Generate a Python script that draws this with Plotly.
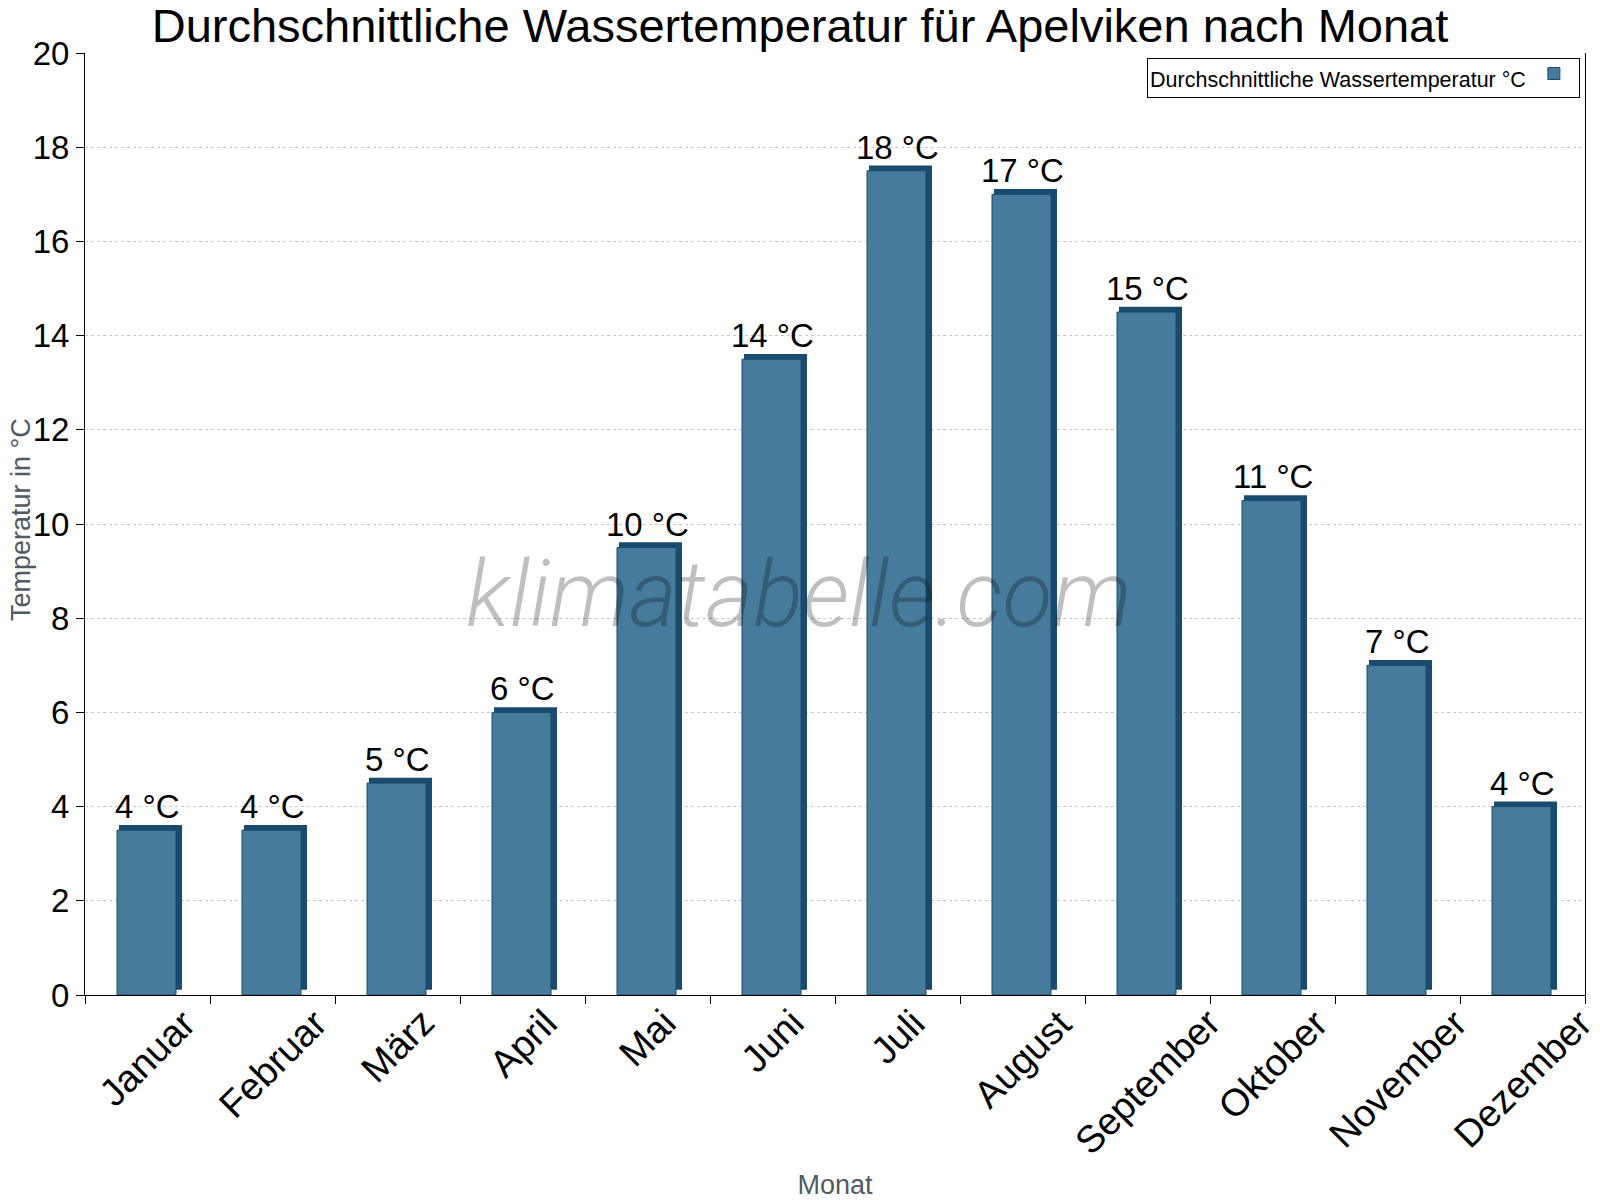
import plotly.graph_objects as go

months = ["Januar", "Februar", "März", "April", "Mai", "Juni", "Juli",
          "August", "September", "Oktober", "November", "Dezember"]
water_temp = [3.5, 3.5, 4.5, 6, 9.5, 13.5, 17.5, 17, 14.5, 10.5, 7, 4]
value_labels = ["4 °C", "4 °C", "5 °C", "6 °C", "10 °C", "14 °C", "18 °C",
                "17 °C", "15 °C", "11 °C", "7 °C", "4 °C"]
y_ticks = [0, 2, 4, 6, 8, 10, 12, 14, 16, 18, 20]
series_name = "Durchschnittliche Wassertemperatur °C"

FRONT = "rgb(70,123,156)"
DARK = "rgb(24,75,110)"
FONT = "Liberation Sans, Arial, sans-serif"
AXIS_TITLE = "#505a64"
CAP = 0.11  # depth of the pseudo-3D cap in data units

fig = go.Figure()

# shadow/depth part of the pseudo-3D bar
fig.add_trace(go.Bar(
    x=months, y=water_temp, base=[CAP] * len(months),
    offset=-0.228, width=0.504,
    marker=dict(color=DARK, line=dict(width=0)),
    showlegend=False, hoverinfo="skip",
))
# front face
fig.add_trace(go.Bar(
    x=months, y=water_temp,
    offset=-0.244, width=0.472,
    marker=dict(color=FRONT, line=dict(width=1, color=DARK)),
    name="", hovertemplate="%{x}: %{y} °C<extra>" + series_name + "</extra>",
))

# value labels above the bars
for m, v, t in zip(months, water_temp, value_labels):
    fig.add_annotation(x=m, y=v, text=t, showarrow=False, yanchor="bottom",
                       yshift=3, font=dict(size=33, color="black", family=FONT))

# month labels, rotated and centred under each category
for m in months:
    fig.add_annotation(x=m, y=0, xref="x", yref="paper", text=m,
                       showarrow=False, textangle=-45,
                       xanchor="center", yanchor="top", yshift=-4,
                       font=dict(size=38, color="black", family=FONT))

# y axis title
fig.add_annotation(x=0, y=0.5, xref="paper", yref="paper",
                   text="Temperatur in °C", showarrow=False, textangle=-90,
                   xanchor="center", yanchor="middle", xshift=-64, yshift=4,
                   font=dict(size=27, color=AXIS_TITLE, family=FONT))

fig.add_annotation(x=0.476, y=0.425, xref="paper", yref="paper",
                   text="<i>klimatabelle.com</i>", showarrow=False,
                   font=dict(size=92, color="rgba(0,0,0,0.25)",
                             family="Roboto, sans-serif", weight=300))

fig.update_layout(
    width=1600, height=1200,
    barmode="overlay",
    paper_bgcolor="white", plot_bgcolor="white",
    margin=dict(l=85, r=15, t=53, b=205, autoexpand=False),
    font=dict(family=FONT, color="black"),
    title=dict(text="Durchschnittliche Wassertemperatur für Apelviken nach Monat",
               x=0.5, xanchor="center", y=0.979, yanchor="middle",
               font=dict(size=47, color="black", family=FONT)),
    showlegend=True,
    legend=dict(x=0.9967, y=0.9947, xanchor="right", yanchor="top",
                bgcolor="white", bordercolor="black", borderwidth=1,
                title=dict(text=series_name, side="left",
                           font=dict(size=21.5, color="black", family=FONT)),
                font=dict(size=12, color="black", family=FONT),
                itemwidth=30),
    xaxis=dict(
        type="category", range=[-0.5, len(months) - 0.5], autorange=False,
        tickson="boundaries",
        ticks="outside", ticklen=8, tickcolor="black", tickwidth=1,
        showline=True, linecolor="black", linewidth=1,
        showgrid=False, showticklabels=False,
        title=dict(text="Monat", standoff=180,
                   font=dict(size=27, color=AXIS_TITLE, family=FONT)),
        automargin=False,
    ),
    yaxis=dict(
        range=[0, 20], tickvals=y_ticks, autorange=False,
        ticks="outside", ticklen=8, tickcolor="black", tickwidth=1,
        showline=True, linecolor="black", linewidth=1, mirror=True,
        showgrid=True, gridcolor="#c8c8c8", griddash="dot", gridwidth=1,
        zeroline=False,
        tickfont=dict(size=33, color="black", family=FONT),
        automargin=False,
    ),
)

fig.write_html("out.html")
